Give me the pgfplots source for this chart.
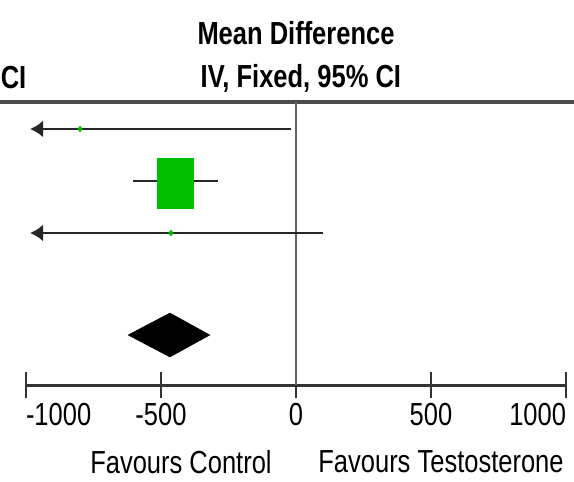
\documentclass[border=0pt]{standalone}
\usepackage{fontspec}
\setmainfont[FakeStretch=0.8]{Liberation Sans}
\usepackage{pgfplots}
\pgfplotsset{compat=1.18}
\usetikzlibrary{arrows.meta}
\definecolor{fgreen}{RGB}{0,190,0}
\begin{document}
\begin{tikzpicture}
\begin{axis}[
 scale only axis, width=540bp, height=283bp,
 xmin=-1000,xmax=1000,ymin=0,ymax=283,
 axis x line=bottom, axis y line=none,
 x axis line style={-, line width=3pt, black!80},
 xtick={-1000,-500,0,500,1000},
 xticklabels={\makebox[0pt][l]{-1000},-500,0,500,\makebox[0pt][r]{1000}},
 major tick length=26bp, tick align=center,
 tick style={line width=2.2pt, black!80},
 xticklabel style={font=\fontsize{32}{36}\selectfont, yshift=-2bp},
 clip=false,
]
% top rule and zero line
\addplot[line width=3.2pt, black!70] coordinates {(-1096.3,283) (1029.6,283)};
\addplot[line width=2.2pt, black!60] coordinates {(0,0) (0,283)};
% study 1
\addplot[line width=3pt, black!85, {Latex[length=13bp,width=17bp]}-] coordinates {(-985,256) (-18,256)};
\addplot[only marks, mark=diamond*, mark size=3bp, fgreen] coordinates {(-800,256)};
% study 2
\addplot[line width=3pt, black!85] coordinates {(-604,204) (-289,204)};
\addplot[fill=fgreen, draw=none] coordinates {(-515,176) (-378,176) (-378,227) (-515,227)} -- cycle;
% study 3
\addplot[line width=3pt, black!85, {Latex[length=13bp,width=17bp]}-] coordinates {(-985,152) (100,152)};
\addplot[only marks, mark=diamond*, mark size=3bp, fgreen] coordinates {(-463,152)};
% pooled
\addplot[fill=black, draw=black] coordinates {(-622,50) (-467,72) (-319,50) (-467,28)} -- cycle;
% texts
\node[font=\bfseries\fontsize{32}{36}\selectfont] at (axis cs:0,352) {Mean Difference};
\node[font=\bfseries\fontsize{32}{36}\selectfont] at (axis cs:18,307) {IV, Fixed, 95\% CI};
\node[font=\bfseries\fontsize{32}{36}\selectfont, anchor=west, inner xsep=0pt] at (axis cs:-1094,307) {CI};
\node[font=\fontsize{32}{36}\selectfont] at (axis cs:-426,-77) {Favours Control};
\node[font=\fontsize{32}{36}\selectfont] at (axis cs:537,-77) {Favours Testosterone};
\coordinate (BL) at (axis cs:-1096.3,-96);
\coordinate (TR) at (axis cs:1029.6,385);
\end{axis}
\pgfresetboundingbox
\useasboundingbox (BL) rectangle (TR);
\end{tikzpicture}
\end{document}
